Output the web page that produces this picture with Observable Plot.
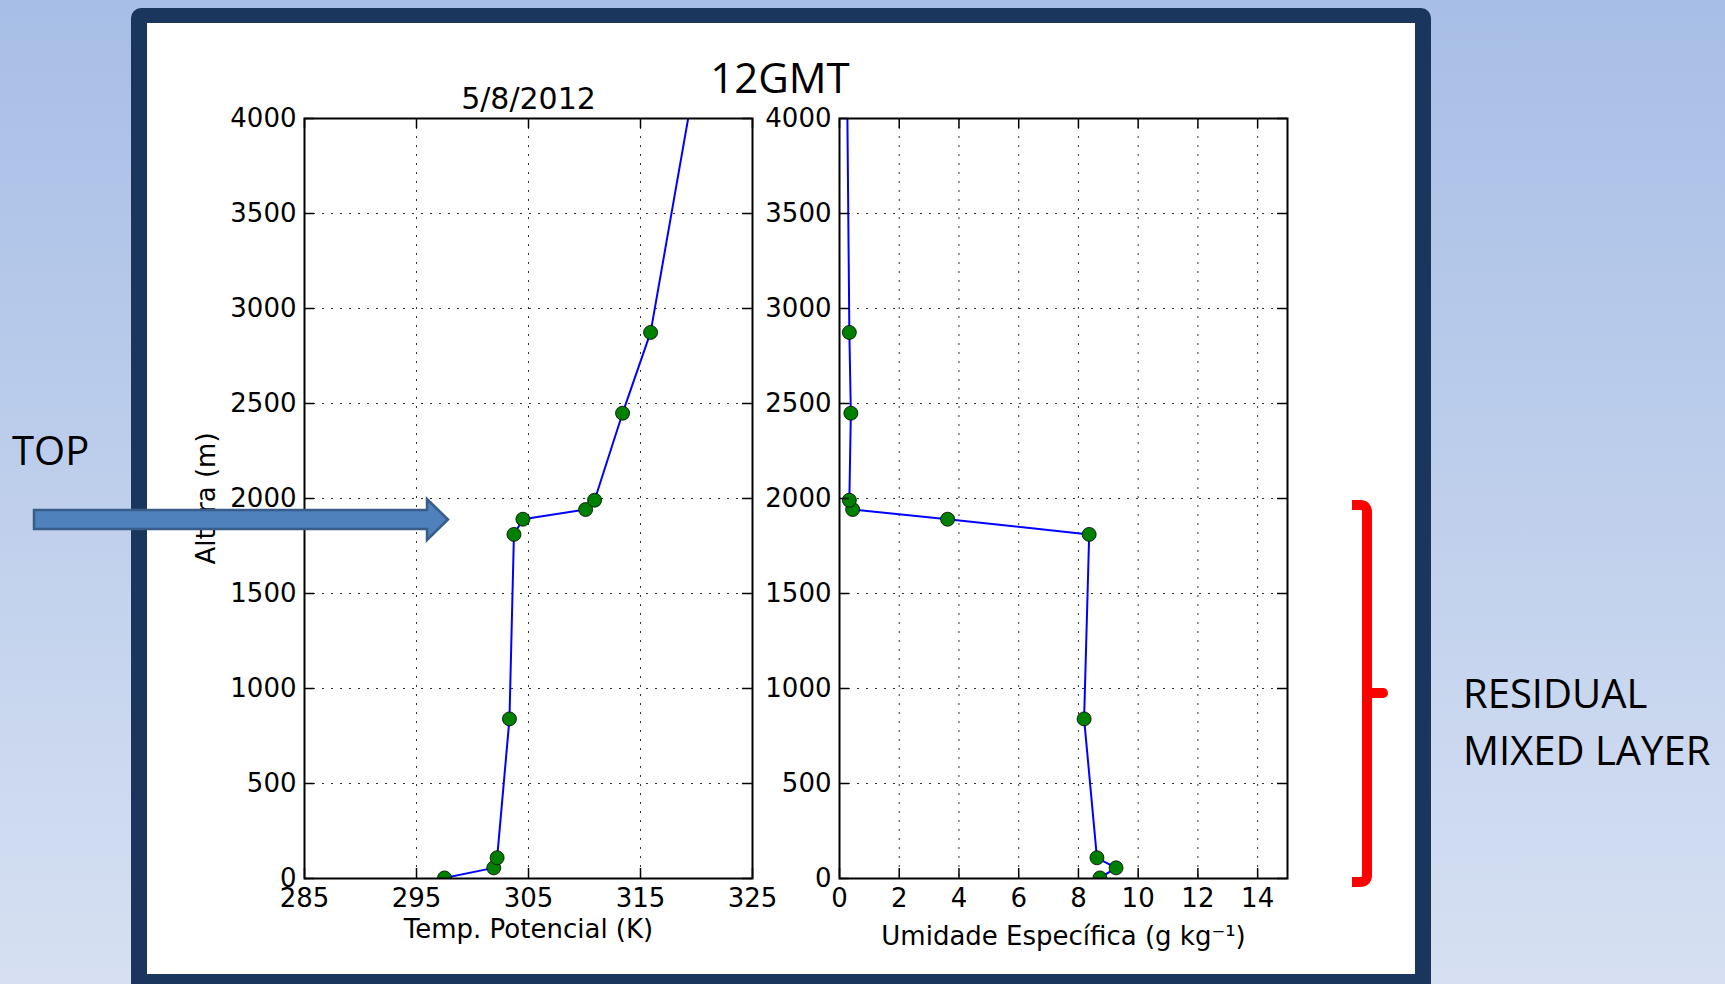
<!DOCTYPE html>
<html>
<head>
<meta charset="utf-8">
<script src="https://cdn.jsdelivr.net/npm/d3@7"></script>
<script src="https://cdn.jsdelivr.net/npm/@observablehq/plot@0.6"></script>
<style>
  html, body { margin: 0; padding: 0; }
  body {
    width: 1725px; height: 984px; overflow: hidden; position: relative;
    background: linear-gradient(to bottom, #a7bee6, #d6e0f2);
  }
  #frame { position: absolute; left: 131px; top: 8px; width: 1300px; height: 1010px; background: #1b365d; border-radius: 10px; }
  #sheet { position: absolute; left: 147px; top: 23px; width: 1268px; height: 951px; background: #fff; }
  .panel { position: absolute; }
  .panel svg { overflow: visible; background: transparent; max-width: none; }
  #overlay { position: absolute; left: 0; top: 0; pointer-events: none; }
  #overlay text { font-family: "Open Sans", sans-serif; fill: #000; }
</style>
</head>
<body>
<div id="frame"></div>
<div id="sheet"></div>
<div id="left" class="panel" style="left:160px; top:40px;"></div>
<div id="right" class="panel" style="left:760px; top:40px;"></div>

<svg id="overlay" width="1725" height="984">
  <text x="780" y="93" font-size="42" text-anchor="middle">12GMT</text>
  <text x="12" y="465" font-size="40">TOP</text>
  <text x="1463" y="708" font-size="40">RESIDUAL</text>
  <text x="1463" y="765" font-size="40">MIXED LAYER</text>
  <!-- arrow pointing at the top of the residual layer -->
  <polygon points="34,510 427,510 427,499 448,519.5 427,540 427,529 34,529"
           fill="#4f81bd" stroke="#385d8a" stroke-width="2.5" stroke-linejoin="miter"/>
  <!-- bracket spanning the residual mixed layer -->
  <path d="M1352,505 H1360 Q1367,505 1367,512 V875 Q1367,882 1360,882 H1352"
        fill="none" stroke="#ff0000" stroke-width="10"/>
  <path d="M1367,693 H1383" fill="none" stroke="#ff0000" stroke-width="10" stroke-linecap="round"/>
</svg>

<script>
// Sounding profile, 5/8/2012 12GMT
const altura = [3, 56, 109, 840, 1811, 1891, 1942, 1991, 2449, 2874, 4250];          // m
const tempPotencial = [297.5, 301.9, 302.2, 303.3, 303.7, 304.5, 310.1, 310.9, 313.4, 315.9, 320.0]; // K
const umidade = [8.72, 9.26, 8.62, 8.19, 8.36, 3.62, 0.44, 0.33, 0.38, 0.33, 0.25];   // g/kg

const alturaTicks = [0, 500, 1000, 1500, 2000, 2500, 3000, 3500, 4000];
const tempTicks = [285, 295, 305, 315, 325];
const umidadeTicks = [0, 2, 4, 6, 8, 10, 12, 14];
const titulo = "5/8/2012";

const W = 448, H = 760;
const FONT = "DejaVu Sans";

function painel({values, xDomain, xTicks, xLabel, xLabelDy, marginLeft, yLabel, title}) {
  const rows = altura.map((h, i) => ({h, v: values[i]}));
  const dotted = {stroke: "#000", strokeOpacity: 0.8, strokeWidth: 1, strokeDasharray: "2,7"};
  const marks = [
    Plot.gridX(xTicks, {x: d => d, ...dotted}),
    Plot.gridY(alturaTicks, {y: d => d, ...dotted}),
    Plot.line(rows, {x: "v", y: "h", stroke: "#0000ff", strokeWidth: 2, clip: true}),
    Plot.dot(rows, {x: "v", y: "h", r: 7, fill: "#008000", stroke: "#000", strokeWidth: 0.8, clip: true}),
    // inward ticks on all four sides
    Plot.tickX(xTicks, {x: d => d, insetTop: H - 10, strokeWidth: 1.5}),
    Plot.tickX(xTicks, {x: d => d, insetBottom: H - 10, strokeWidth: 1.5}),
    Plot.tickY(alturaTicks, {y: d => d, insetRight: W - 10, strokeWidth: 1.5}),
    Plot.tickY(alturaTicks, {y: d => d, insetLeft: W - 10, strokeWidth: 1.5}),
    Plot.axisX(xTicks, {tickSize: 0, tickPadding: 10, label: null, tickFormat: d => String(d)}),
    Plot.axisY(alturaTicks, {tickSize: 0, tickPadding: 8, label: null, tickFormat: d => String(d)}),
    Plot.frame({stroke: "#000", strokeWidth: 2}),
    Plot.text([xLabel], {frameAnchor: "bottom", lineAnchor: "bottom", dy: xLabelDy, text: d => d, fontSize: 26})
  ];
  if (yLabel) marks.push(Plot.text([yLabel], {frameAnchor: "left", textAnchor: "middle", dx: -98, rotate: -90, text: d => d, fontSize: 26}));
  if (title) marks.push(Plot.text([title], {frameAnchor: "top", lineAnchor: "bottom", dy: -10, text: d => d, fontSize: 30}));
  return Plot.plot({
    width: marginLeft + W + 30,
    height: 78 + H + 80,
    marginLeft, marginRight: 30, marginTop: 78, marginBottom: 80,
    style: {fontFamily: FONT, fontSize: "26px", color: "#000", background: "transparent", overflow: "visible"},
    x: {domain: xDomain},
    y: {domain: [0, 4000]},
    marks
  });
}

document.getElementById("left").append(painel({
  values: tempPotencial,
  xDomain: [285, 325],
  xTicks: tempTicks,
  xLabel: "Temp. Potencial (K)",
  xLabelDy: 59,
  marginLeft: 144,
  yLabel: "Altura (m)",
  title: titulo
}));

document.getElementById("right").append(painel({
  values: umidade,
  xDomain: [0, 15],
  xTicks: umidadeTicks,
  xLabel: "Umidade Específica (g kg⁻¹)",
  xLabelDy: 66,
  marginLeft: 79
}));
</script>
</body>
</html>
